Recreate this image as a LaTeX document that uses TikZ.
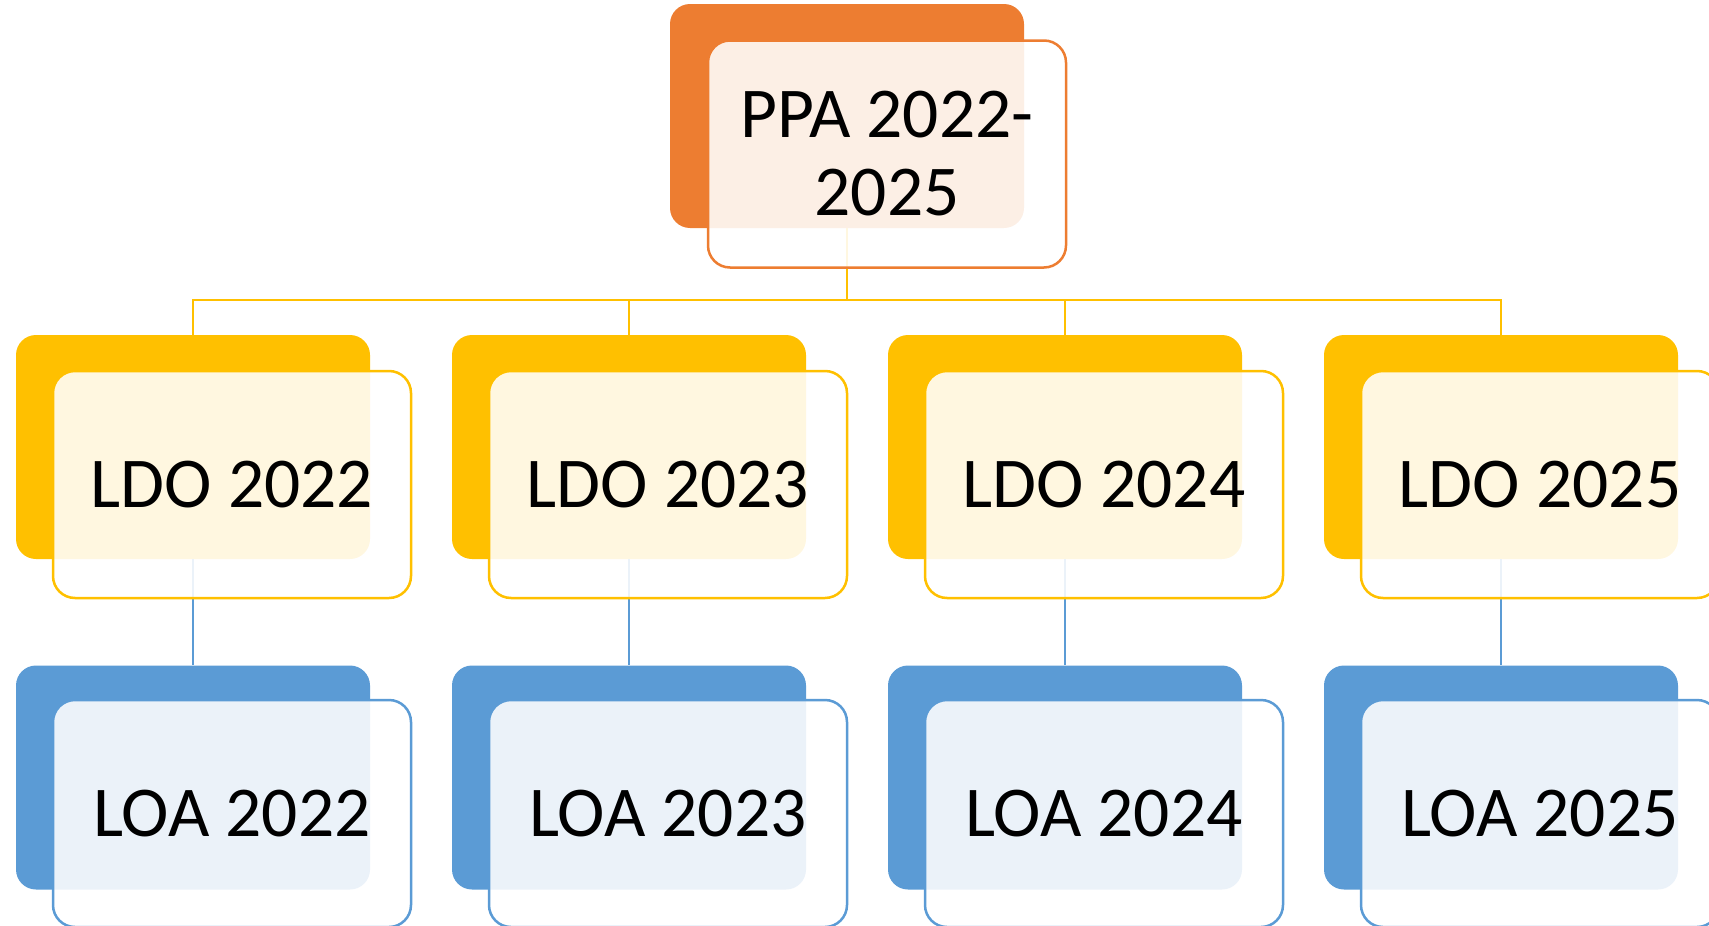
\documentclass[tikz,border=0pt]{standalone}
\usepackage{fontspec}
\setmainfont{Carlito}
\definecolor{orA}{HTML}{ED7D31}
\definecolor{yeA}{HTML}{FFC000}
\definecolor{blA}{HTML}{5B9BD5}
\begin{document}
\begin{tikzpicture}[x=1pt,y=-1pt,
  back/.style={minimum width=354pt,minimum height=224pt,inner sep=0pt,rounded corners=20pt,draw=none},
  front/.style={minimum width=358pt,minimum height=227pt,inner sep=0pt,rounded corners=22pt,line width=2.5pt,fill=white,fill opacity=0.88,text opacity=1,draw opacity=1,font=\fontsize{71.5}{78}\selectfont,align=center},
  link/.style={line width=2.5pt}]
\useasboundingbox (0,0) rectangle (1709,926);
% coloured back boxes
\node[back,fill=orA] (pb) at (847,116) {};
\foreach \i/\cx in {1/193,2/629,3/1065,4/1501}{
  \node[back,fill=yeA] (lb\i) at (\cx,447) {};
  \node[back,fill=blA] (ab\i) at (\cx,777.5) {};
}
% connectors
\coordinate (bus) at (847,300);
\draw[link,yeA] (pb.south) -- (bus);
\foreach \i in {1,2,3,4}{
  \draw[link,yeA] (bus) -| (lb\i.north);
  \draw[link,blA] (lb\i.south) -- (ab\i.north);
}
% front boxes with text
\node[front,draw=orA] (pf) at (887,154) {PPA 2022-\\2025};
\node[front,draw=yeA] (lf1) at (232,484.5) {LDO 2022};
\node[front,draw=yeA] (lf2) at (668,484.5) {LDO 2023};
\node[front,draw=yeA] (lf3) at (1104,484.5) {LDO 2024};
\node[front,draw=yeA] (lf4) at (1540,484.5) {LDO 2025};
\node[front,draw=blA] (af1) at (232,813.5) {LOA 2022};
\node[front,draw=blA] (af2) at (668,813.5) {LOA 2023};
\node[front,draw=blA] (af3) at (1104,813.5) {LOA 2024};
\node[front,draw=blA] (af4) at (1540,813.5) {LOA 2025};
\end{tikzpicture}
\end{document}
